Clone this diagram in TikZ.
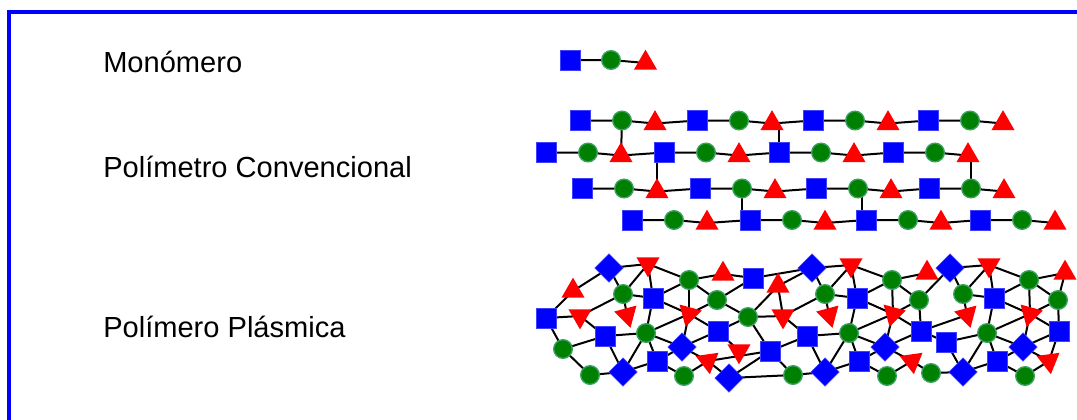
\documentclass[tikz,border=0pt]{standalone}
\usepackage{fontspec}
\setmainfont{Liberation Sans}
\usetikzlibrary{shapes.geometric,calc}
\definecolor{myblue}{RGB}{0,0,255}
\definecolor{myred}{RGB}{255,0,0}
\definecolor{mygreen}{RGB}{0,128,0}
\definecolor{mygreenb}{RGB}{60,160,100}
\pgfdeclarelayer{bg}
\pgfsetlayers{bg,main}
\begin{document}
\begin{tikzpicture}[x=0.75pt,y=-0.75pt,
  sq/.style={rectangle,fill=myblue,draw=myblue!75!white,line width=0.4pt,minimum size=15pt,inner sep=0pt,outer sep=0pt},
  dia/.style={sq,rotate=45},
  cir/.style={circle,fill=mygreen,draw=mygreenb,line width=1pt,minimum size=14pt,inner sep=0pt,outer sep=0pt},
  tri/.style={regular polygon,regular polygon sides=3,fill=myred,minimum size=20pt,inner sep=0pt,outer sep=0pt},
  tup/.style={tri,yshift=-2.25pt},
  tdn/.style={tri,shape border rotate=180,yshift=2.25pt},
  bond/.style={line width=1.5pt,black},
  lab/.style={anchor=base west,font=\fontsize{21.8pt}{26pt}\selectfont,inner sep=0pt}
]
\useasboundingbox (0,0) rectangle (1077,419);
% frame
\draw[myblue,line width=3pt] (8.5,425) -- (8.5,12) -- (1085,12);
% labels
\node[lab] (t1) at (103,72.4) {Monómero};
\node[lab] (t2) at (103,177.4) {Polímetro Convencional};
\node[lab] (t3) at (103,337.4) {Polímero Plásmica};
% monomer
\node[sq] (s0) at (570,60) {};
\node[cir] (c0) at (611,60) {};
\node[tup] (t0) at (645.5,60) {};
% conventional polymer chains
\foreach \r/\y/\xa/\xb/\xc/\xd in {1/120.5/580/697/813/928, 2/152.5/546/664/779/893, 3/188.5/582/700/816/929, 4/220/632/750/866/980}{
  \foreach \i/\x in {1/\xa,2/\xb,3/\xc,4/\xd}{
    \node[sq] (s\r\i) at (\x,\y) {};
    \node[cir] (c\r\i) at (\x+42,\y) {};
    \node[tup] (t\r\i) at (\x+75,\y) {};
  }
}
% plasma polymer, part 1
\node[sq] (A) at (546,318) {};
\node[tup] (B) at (573,288) {};
\node[dia] (C) at (609,268) {};
\node[tdn] (D) at (648,267) {};
\node[cir] (E) at (623,294) {};
\node[sq] (F) at (653,298) {};
\node[tdn] (G) at (580,319) {};
\node[tdn,rotate=15] (H) at (627,318) {};
\node[sq] (I) at (605,336) {};
\node[cir] (J) at (646,333) {};
\node[cir] (K) at (563,349) {};
\node[cir] (L) at (590,375) {};
\node[dia] (M) at (623,372) {};
\node[sq] (N) at (657,361) {};
\node[cir] (O) at (689,280) {};
\node[tup] (R) at (723,271) {};
\node[sq] (S) at (753,278) {};
\node[tup] (T) at (778,283) {};
\node[dia] (U) at (812,268) {};
\node[cir] (Q) at (717,300) {};
\node[tdn,rotate=-15] (P) at (689,317) {};
\node[cir] (V) at (748,317) {};
\node[tdn] (W) at (783,319) {};
\node[sq] (X) at (718,331) {};
\node[dia] (Y) at (682,347) {};
\node[sq] (Z) at (770,351) {};
\node[tdn] (AA) at (739,354) {};
\node[tdn,rotate=8] (AB) at (708,364) {};
\node[cir] (AC) at (684,376) {};
\node[dia] (AD) at (729,378) {};
\node[cir] (AE) at (793,375) {};
\node[sq] (AF) at (807,336) {};
% part 2
\node[tdn] (D2) at (851,268) {};
\node[cir] (E2) at (825,294) {};
\node[sq] (F2) at (857,298) {};
\node[tdn,rotate=15] (H2) at (829,318) {};
\node[cir] (J2) at (849,333) {};
\node[dia] (M2) at (825,372) {};
\node[sq] (N2) at (859,361) {};
\node[cir] (O2) at (892,280) {};
\node[tup] (R2) at (927,270) {};
\node[cir] (Q2) at (919,300) {};
\node[tdn,rotate=-15] (P2) at (893,317) {};
\node[sq] (X2) at (921,331) {};
\node[dia] (Y2) at (885,347) {};
\node[tdn,rotate=8] (AB2) at (912,364) {};
\node[cir] (AC2) at (887,376) {};
% part 3
\node[dia] (C3) at (950,268) {};
\node[tdn] (D3) at (989,268) {};
\node[cir] (E3) at (963,294) {};
\node[sq] (F3) at (994,298) {};
\node[tdn,rotate=15] (H3) at (967,318) {};
\node[sq] (I3) at (946,342) {};
\node[cir] (J3) at (987,333) {};
\node[dia] (M3) at (963,372) {};
\node[sq] (N3) at (997,361) {};
\node[cir] (L3) at (931,373) {};
\node[cir] (O3) at (1029,280) {};
\node[tup] (R3) at (1065,270) {};
\node[cir] (Q3) at (1058,300) {};
\node[tdn,rotate=-15] (P3) at (1030,317) {};
\node[sq] (X3) at (1059,331) {};
\node[dia] (Y3) at (1023,347) {};
\node[tdn,rotate=8] (AB3) at (1049,364) {};
\node[cir] (AC3) at (1025,376) {};
% bonds
\begin{pgfonlayer}{bg}
\draw[bond] (s0.center) -- (c0.center) -- (t0.center);
\foreach \r in {1,...,4}{
  \foreach \i in {1,...,4}{\draw[bond] (s\r\i.center) -- (c\r\i.center) -- (t\r\i.center);}
  \foreach \i/\j in {1/2,2/3,3/4}{\draw[bond] (t\r\i.center) -- (s\r\j.center);}
}
\draw[bond] (c11.center) -- (t21.center);
\draw[bond] (t31.center) -- (t31.center |- s22.center);
\draw[bond] (c32.center) -- (c32.center |- s42.center);
\draw[bond] (s23.center) -- (s23.center |- t13.center);
\draw[bond] (c34.center) -- (c34.center |- t24.center);
\draw[bond] ([xshift=3pt]c33.center) -- ([xshift=3pt]c33.center |- s43.center);
\foreach \a/\b in {A/B, B/C, C/D, C/E, D/E, D/F, E/F, E/G, E/H, A/G, A/K, G/I, F/J, I/J, I/K, I/M, J/M, J/N, K/L, L/M, M/N, D/O, F/O, F/P, O/R, R/S, S/U, T/U, O/Q, O/P, Q/S, Q/V, J/P, P/Q, P/Y, V/T, T/W, V/W, P/X, V/X, V/Z, X/Y, X/AA, N/Y, J/Y, Y/AB, N/AC, AC/AB, AB/Z, AB/AD, AD/Z, AD/AE, Z/AE, Z/AF,
  U/D2, U/E2, D2/E2, D2/F2, E2/F2, E2/W, E2/H2, W/AF, F2/J2, AF/J2, AF/M2, J2/M2, J2/N2, AE/M2, M2/N2, D2/O2, F2/O2, F2/P2, O2/R2, O2/Q2, O2/P2, J2/P2, P2/Q2, P2/X2, P2/Y2, Q2/X2, X2/Y2, N2/Y2, J2/Y2, Y2/AB2, N2/AC2, AC2/AB2,
  Q2/C3, X2/I3, X2/H3, AB2/L3,
  C3/D3, C3/E3, D3/E3, D3/F3, E3/F3, E3/H3, F3/J3, I3/J3, I3/M3, J3/M3, J3/N3, L3/M3, M3/N3, D3/O3, F3/O3, F3/P3, O3/R3, O3/Q3, O3/P3, J3/P3, P3/Q3, P3/X3, P3/Y3, Q3/X3, R3/Q3, X3/Y3, N3/Y3, J3/Y3, Y3/AB3, N3/AC3, AC3/AB3, X3/AB3}
  {\draw[bond] (\a.center) -- (\b.center);}
\end{pgfonlayer}
\end{tikzpicture}
\end{document}
